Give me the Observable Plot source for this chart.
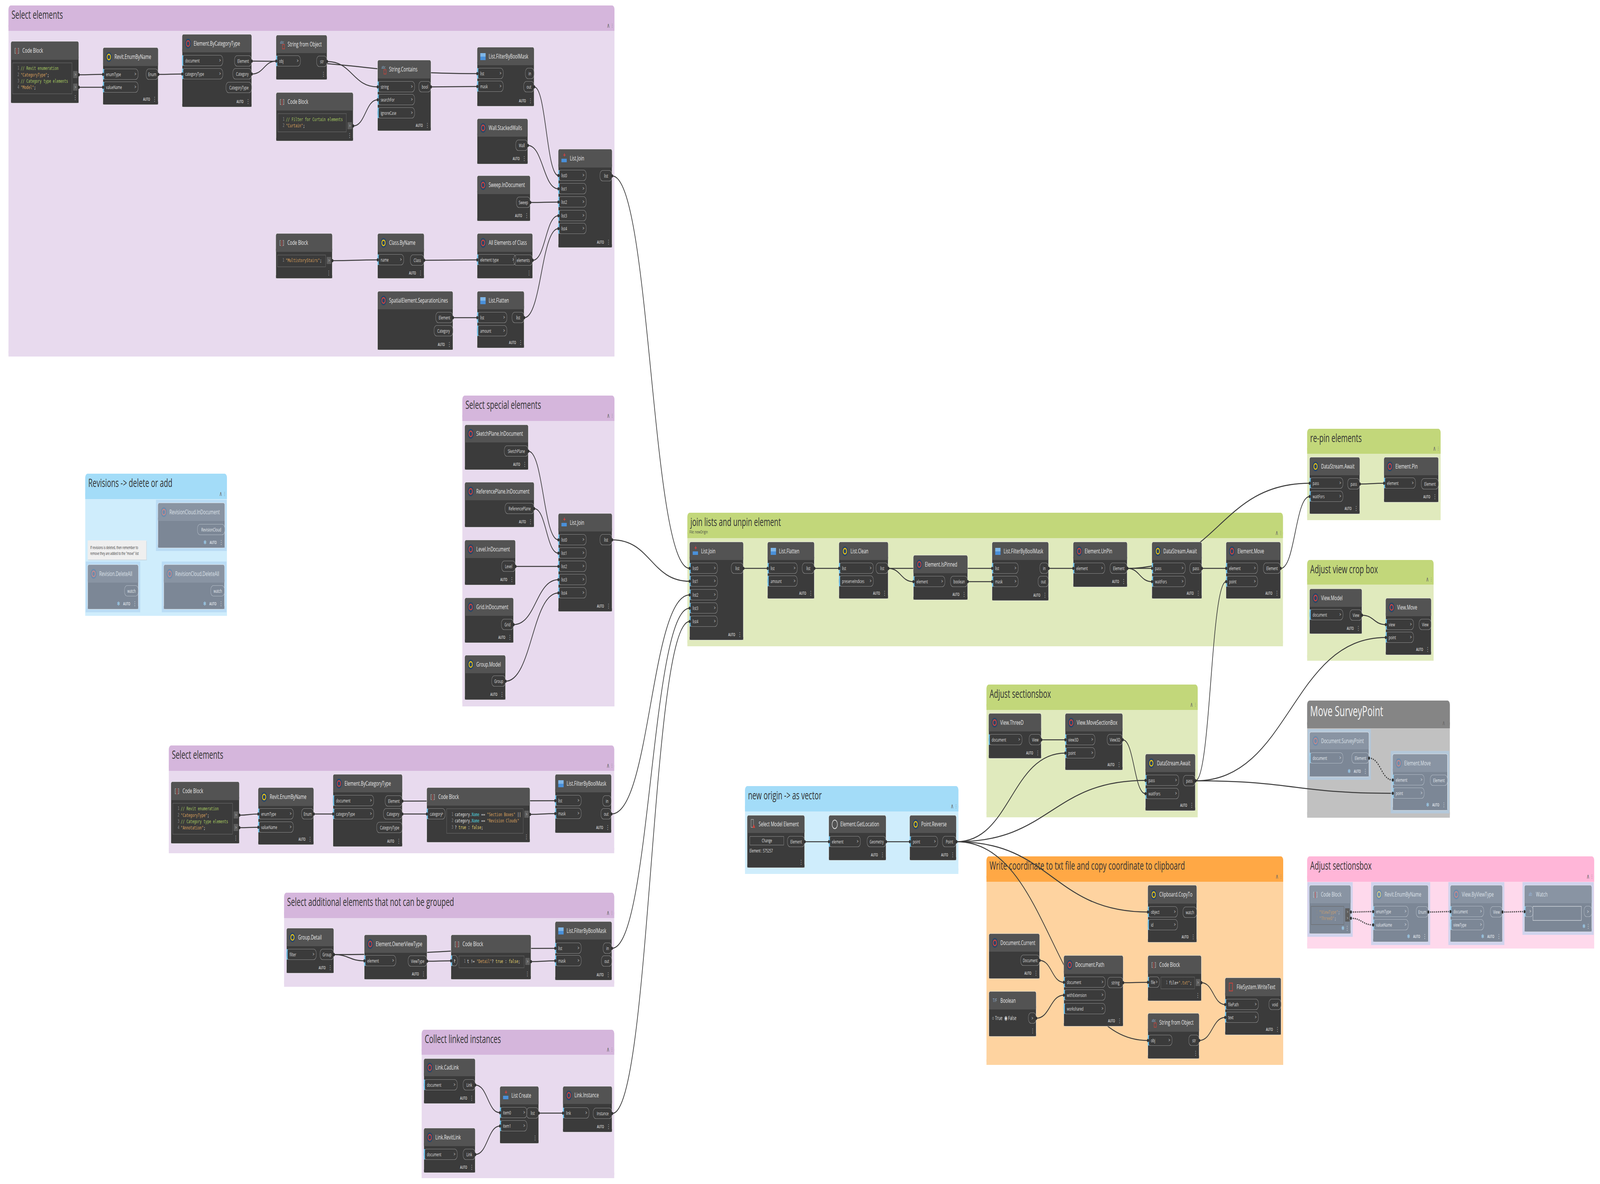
<!DOCTYPE html>
<html><head><meta charset="utf-8">
<script src="https://cdn.jsdelivr.net/npm/d3@7"></script>
<script src="https://cdn.jsdelivr.net/npm/@observablehq/plot@0.6"></script>
<style>html,body{margin:0;padding:0;background:#fff;overflow:hidden;width:100vw;height:100vh}#c{width:100vw;height:100vh;overflow:hidden}#c svg{display:block}</style>
</head><body><div id="c"></div>
<script>
// ---------- DATA (canvas units) ----------
// groups: name, subtitle, kind, x1, y1, x2, y2, header bottom
const groups = [
 ["Select elements","","purple",35,14,2537,913,78],
 ["Select special elements","","purple",1909,1013,2537,1809,1077],
 ["Revisions -> delete or add","","blue",352,1213,937,1577,1277],
 ["Select elements","","purple",697,1909,2536,2185,1973],
 ["Select additional elements that not can be grouped","","purple",1173,2286,2536,2527,2350],
 ["Collect linked instances","","purple",1741,2637,2536,3017,2700],
 ["join lists and unpin element","File: newOrigin","green",2838,1313,5297,1655,1377],
 ["Adjust sectionsbox","","green",4073,1753,4945,2093,1817],
 ["new origin -> as vector","","blue",3076,2013,3957,2238,2077],
 ["Write coordinate to txt file and copy coordinate to clipboard","","orange",4073,2193,5298,2727,2257],
 ["re-pin elements","","green",5397,1098,5948,1332,1161],
 ["Adjust view crop box","","green",5397,1434,5919,1692,1496],
 ["Move SurveyPoint","","gray",5397,1794,5986,2094,1864],
 ["Adjust sectionsbox","","pink",5397,2193,6582,2429,2257]
];
// nodes: id, title, icon, x1, y1, x2, y2, header bottom, footer, frozen
const nodes = [
 ["a1","Code Block","c",45,106,325,264,153,"dots",0],
 ["a2","Revit.EnumByName","y",425,122,653,268,169,"auto",0],
 ["a3","Element.ByCategoryType","r",752,88,1039,274,134,"auto",0],
 ["a4","String from Object","s",1140,90,1350,204,136,"dots",0],
 ["a5","Code Block","c",1140,237,1458,361,283,"dots",0],
 ["a6","String.Contains","s",1559,154,1779,335,201,"auto",0],
 ["a7","List.FilterByBoolMask","l",1970,121,2205,272,167,"auto",0],
 ["a8","Wall.StackedWalls","r",1970,304,2179,420,350,"auto",0],
 ["a9","Sweep.InDocument","r",1970,450,2189,566,497,"auto",0],
 ["a10","List.Join","j",2305,382,2527,634,429,"auto",0],
 ["a11","Code Block","c",1139,598,1372,713,645,"dots",0],
 ["a12","Class.ByName","y",1559,598,1751,713,645,"auto",0],
 ["a13","All Elements of Class","r",1970,598,2199,713,645,"dots",0],
 ["a14","SpatialElement.SeparationLines","r",1559,746,1870,896,792,"auto",0],
 ["a15","List.Flatten","l",1970,746,2164,891,792,"auto",0],
 ["b1","SketchPlane.InDocument","r",1919,1088,2181,1203,1133,"auto",0],
 ["b2","ReferencePlane.InDocument","r",1919,1235,2205,1350,1281,"auto",0],
 ["b3","Level.InDocument","r",1919,1383,2128,1498,1429,"auto",0],
 ["b4","Grid.InDocument","r",1919,1531,2120,1646,1577,"auto",0],
 ["b5","Group.Model","y",1919,1678,2087,1792,1724,"auto",0],
 ["b6","List.Join","j",2305,1315,2527,1566,1361,"auto",0],
 ["c1","RevisionCloud.InDocument","r",652,1288,928,1403,1334,"auto",1],
 ["c2","Revision.DeleteAll","r",362,1446,571,1560,1492,"auto",1],
 ["c3","RevisionCloud.DeleteAll","r",676,1446,927,1560,1492,"auto",1],
 ["d1","Code Block","c",706,2002,988,2160,2049,"dots",0],
 ["d2","Revit.EnumByName","y",1066,2017,1295,2163,2064,"auto",0],
 ["d3","Element.ByCategoryType","r",1375,1983,1661,2168,2029,"auto",0],
 ["d4","Code Block","c",1762,2017,2188,2157,2063,"dots",0],
 ["d5","List.FilterByBoolMask","l",2292,1983,2524,2133,2029,"auto",0],
 ["e1","Group.Detail","y",1183,2377,1378,2492,2423,"auto",0],
 ["e2","Element.OwnerViewType","r",1504,2394,1763,2508,2440,"auto",0],
 ["e3","Code Block","c",1862,2394,2192,2508,2440,"dots",0],
 ["e4","List.FilterByBoolMask","l",2292,2360,2526,2510,2406,"auto",0],
 ["f1","Link.CadLink","r",1750,2711,1962,2826,2756,"auto",0],
 ["f2","Link.RevitLink","r",1750,2889,1962,3003,2935,"auto",0],
 ["f3","List Create","j",2064,2782,2224,2928,2828,"dots",0],
 ["f4","Link.Instance","r",2324,2782,2527,2899,2827,"auto",0],
 ["g1","List.Join","j",2847,1388,3069,1639,1434,"auto",0],
 ["g2","List.Flatten","l",3169,1388,3362,1533,1434,"auto",0],
 ["g3","List.Clean","y",3464,1388,3667,1533,1434,"auto",0],
 ["g4","Element.IsPinned","r",3771,1422,3995,1536,1468,"auto",0],
 ["g5","List.FilterByBoolMask","l",4096,1388,4329,1538,1434,"auto",0],
 ["g6","Element.UnPin","r",4431,1388,4654,1503,1434,"auto",0],
 ["g7","DataStream.Await","y",4756,1388,4962,1533,1434,"auto",0],
 ["g8","Element.Move","r",5062,1388,5287,1533,1434,"auto",0],
 ["h1","View.ThreeD","r",4082,1827,4299,1942,1873,"auto",0],
 ["h2","View.MoveSectionBox","r",4398,1827,4635,1972,1873,"auto",0],
 ["h3","DataStream.Await","y",4729,1931,4935,2076,1977,"auto",0],
 ["i1","Select Model Element","p",3085,2088,3322,2222,2133,"dots",0],
 ["i2","Element.GetLocation","g",3422,2088,3658,2203,2133,"auto",0],
 ["i3","Point.Reverse","y",3756,2088,3948,2203,2133,"auto",0],
 ["j1","Clipboard.CopyTo","y",4739,2267,4941,2413,2314,"auto",0],
 ["j2","Document.Current","r",4083,2391,4292,2506,2437,"auto",0],
 ["j3","Boolean","b",4083,2539,4278,2654,2585,"dots",0],
 ["j4","Document.Path","r",4392,2447,4637,2628,2494,"auto",0],
 ["j5","Code Block","c",4739,2447,4960,2563,2494,"dots",0],
 ["j6","String from Object","s",4739,2595,4951,2711,2642,"dots",0],
 ["j7","FileSystem.WriteText","f",5058,2504,5289,2650,2551,"auto",0],
 ["k1","DataStream.Await","y",5407,1171,5614,1316,1217,"auto",0],
 ["k2","Element.Pin","r",5714,1171,5939,1286,1217,"auto",0],
 ["l1","View.Model","r",5407,1508,5623,1623,1554,"auto",0],
 ["l2","View.Move","r",5721,1532,5909,1677,1578,"auto",0],
 ["m1","Document.SurveyPoint","r",5407,1875,5652,1989,1919,"auto",1],
 ["m2","Element.Move","r",5750,1931,5976,2075,1977,"auto",1],
 ["n1","Code Block","c",5406,2267,5577,2391,2313,"dots",1],
 ["n2","Revit.EnumByName","y",5669,2267,5897,2412,2313,"auto",1],
 ["n3","View.ByViewType","r",5988,2267,6203,2412,2313,"auto",1],
 ["n4","Watch","w",6294,2267,6572,2386,2313,"dots",1]
];
// input ports: node, label, y
const inputs = [
 ["a2","enumType",190],["a2","valueName",223],
 ["a3","document",155],["a3","categoryType",189],
 ["a4","obj",156],
 ["a6","string",222],["a6","searchFor",255],["a6","ignoreCase",289],
 ["a7","list",188],["a7","mask",221],
 ["a10","list0",449],["a10","list1",483],["a10","list2",517],["a10","list3",552],["a10","list4",585],
 ["a12","name",665],["a13","element type",665],
 ["a15","list",813],["a15","amount",847],
 ["b6","list0",1382],["b6","list1",1416],["b6","list2",1450],["b6","list3",1484],["b6","list4",1518],
 ["d2","enumType",2084],["d2","valueName",2118],
 ["d3","document",2050],["d3","categoryType",2084],
 ["d4","category",2084],
 ["d5","list",2050],["d5","mask",2083],
 ["e1","filter",2444],["e2","element",2460],["e3","t",2460],
 ["e4","list",2428],["e4","mask",2460],
 ["f1","document",2778],["f2","document",2956],
 ["f3","item0",2849],["f3","item1",2883],["f4","link",2850],
 ["g1","list0",1455],["g1","list1",1488],["g1","list2",1523],["g1","list3",1557],["g1","list4",1591],
 ["g2","list",1455],["g2","amount",1488],
 ["g3","list",1455],["g3","preserveIndices",1488],
 ["g4","element",1489],
 ["g5","list",1455],["g5","mask",1489],
 ["g6","element",1455],
 ["g7","pass",1455],["g7","waitFors",1489],
 ["g8","element",1455],["g8","point",1489],
 ["h1","document",1894],["h2","view3D",1894],["h2","point",1928],
 ["h3","pass",1998],["h3","waitFors",2032],
 ["i2","element",2155],["i3","point",2155],
 ["j1","object",2335],["j1","id",2368],
 ["j4","document",2515],["j4","withExtension",2548],["j4","workshared",2583],
 ["j5","file",2515],["j6","obj",2664],
 ["j7","filePath",2572],["j7","text",2605],
 ["k1","pass",1237],["k1","waitFors",1271],["k2","element",1237],
 ["l1","document",1574],["l2","view",1599],["l2","point",1632],
 ["m1","document",1941],["m2","element",1997],["m2","point",2031],
 ["n2","enumType",2334],["n2","valueName",2368],
 ["n3","document",2334],["n3","viewType",2368],
 ["n4","",2334]
];
// output ports: node, label, y
const outputs = [
 ["a1","",191],["a1","",223],["a2","Enum",190],
 ["a3","Element",156],["a3","Category",189],["a3","CategoryType",224],
 ["a4","str",157],["a5","",322],["a6","bool",222],
 ["a7","in",188],["a7","out",222],["a8","Wall",372],["a9","Sweep",518],["a10","list",450],
 ["a11","",667],["a12","Class",666],["a13","elements",666],
 ["a14","Element",813],["a14","Category",847],["a15","list",813],
 ["b1","SketchPlane",1155],["b2","ReferencePlane",1302],["b3","Level",1450],["b4","Grid",1599],["b5","Group",1744],["b6","list",1382],
 ["c1","RevisionCloud",1356],["c2","watch",1513],["c3","watch",1513],
 ["d1","",2087],["d1","",2119],["d2","Enum",2084],
 ["d3","Element",2051],["d3","Category",2084],["d3","CategoryType",2119],
 ["d4","",2085],["d5","in",2051],["d5","out",2084],
 ["e1","Group",2444],["e2","ViewType",2461],["e3","",2462],["e4","in",2428],["e4","out",2461],
 ["f1","Link",2778],["f2","Link",2956],["f3","list",2850],["f4","Instance",2851],
 ["g1","list",1455],["g2","list",1455],["g3","list",1455],["g4","boolean",1489],
 ["g5","in",1455],["g5","out",1489],["g6","Element",1455],["g7","pass",1455],["g8","Element",1455],
 ["h1","View",1894],["h2","View3D",1894],["h3","pass",1999],
 ["i1","Element",2155],["i2","Geometry",2155],["i3","Point",2155],
 ["j1","watch",2336],["j2","Document",2459],["j3","",2607],["j4","string",2516],
 ["j5","",2516],["j6","str",2664],["j7","void",2572],
 ["k1","pass",1239],["k2","Element",1239],["l1","View",1575],["l2","View",1599],
 ["m1","Element",1941],["m2","Element",1998],
 ["n1","",2335],["n1","",2351],["n2","Enum",2335],["n3","View",2335],["n4","",2334]
];
// wires: from node, output index, to node, input index
const wires = [
 ["a1",0,"a2",0],["a1",1,"a2",1],["a2",0,"a3",1],["a3",0,"a7",0],["a3",1,"a4",0],
 ["a4",0,"a6",0],["a5",0,"a6",1],["a6",0,"a7",1],["a7",1,"a10",0],["a8",0,"a10",1],
 ["a9",0,"a10",2],["a13",0,"a10",3],["a15",0,"a10",4],["a11",0,"a12",0],["a12",0,"a13",0],["a14",0,"a15",0],
 ["b1",0,"b6",0],["b2",0,"b6",1],["b3",0,"b6",2],["b4",0,"b6",3],["b5",0,"b6",4],
 ["d1",0,"d2",0],["d1",1,"d2",1],["d2",0,"d3",1],["d3",0,"d5",0],["d3",1,"d4",0],["d4",0,"d5",1],
 ["e1",0,"e4",0],["e1",0,"e2",0],["e2",0,"e3",0],["e3",0,"e4",1],
 ["f1",0,"f3",0],["f2",0,"f3",1],["f3",0,"f4",0],
 ["a10",0,"g1",0],["b6",0,"g1",1],["d5",1,"g1",2],["e4",0,"g1",3],["f4",0,"g1",4],
 ["g1",0,"g2",0],["g2",0,"g3",0],["g3",0,"g4",0],["g3",0,"g5",0],["g4",0,"g5",1],
 ["g5",0,"g6",0],["g6",0,"g7",0],["g6",0,"g7",1],["g7",0,"g8",0],["g6",0,"k1",0],["g8",0,"k1",1],
 ["h1",0,"h2",0],["i3",0,"h2",1],["h2",0,"h3",1],["i3",0,"h3",0],
 ["h3",0,"g8",1],["h3",0,"l2",1],["h3",0,"m2",1],
 ["i1",0,"i2",0],["i2",0,"i3",0],["i3",0,"j1",0],["i3",0,"j6",0],
 ["j2",0,"j4",0],["j3",0,"j4",1],["j4",0,"j5",0],["j5",0,"j7",0],["j6",0,"j7",1],
 ["k1",0,"k2",0],["l1",0,"l2",0],["m1",0,"m2",0],
 ["n1",0,"n2",0],["n1",1,"n2",1],["n2",0,"n3",0],["n3",0,"n4",0]
];
// code block lines: node, text, y
const codeLines = [
 ["a1","// Revit enumeration",174],["a1","\"CategoryType\";",191],["a1","// Category type elements",207],["a1","\"Model\";",223],
 ["a5","// Filter for Curtain elements",305],["a5","\"Curtain\";",321],
 ["a11","\"MultistoryStairs\";",666],
 ["d1","// Revit enumeration",2070],["d1","\"CategoryType\";",2087],["d1","// Category type elements",2103],["d1","\"Annotation\";",2119],
 ["d4","category.Name == \"Section Boxes\" ||",2085],["d4","category.Name == \"Revision Clouds\"",2101],["d4","? true : false;",2118],
 ["e3","t != \"Detail\"? true : false;",2461],
 ["j5","file+\".txt\";",2516],
 ["n1","\"ViewType\";",2335],["n1","\"ThreeD\";",2351]
];
const notes = [["If revisions is deleted, then remember to\nremove they are added to the \"move\" list",362,1384,604,1433]];
const selectionText = ["Change","Element : 575257"];
const booleanText = "○ True  ◉ False";

// ---------- STYLE ----------
const pal = {
 purple:{head:"#d5b6dc",body:"#e8daee",title:"#333333"},
 green:{head:"#c2d77a",body:"#e0eabd",title:"#333333"},
 blue:{head:"#a3dcf8",body:"#cfedfc",title:"#333333"},
 orange:{head:"#ffa845",body:"#fed3a0",title:"#333333"},
 gray:{head:"#858585",body:"#c1c1c1",title:"#f4f4f4"},
 pink:{head:"#ffb6d8",body:"#fed9ec",title:"#333333"}
};
const NORM = {body:"#3b3b3b",head:"#535353",title:"#e8e8e8",port:"#dedede",pill:"#8d8d8d",bar:"#6cc3ee",foot:"#dcdcdc"};
const FROZ = {body:"#7c8796",head:"#8994a3",title:"#dbe1e8",port:"#e4e9ee",pill:"#b4bdc8",bar:"#8fc9ea",foot:"#e8edf2"};
const FONT = "'Open Sans', 'Noto Sans', sans-serif";
const MONO = "'DejaVu Sans Mono', monospace";
const CW = 13 * 0.602;

// ---------- BUILD TABLES ----------
const G = groups.map(([name, sub, kind, x1, y1, x2, y2, hb]) => ({name, sub, kind, x1, y1, x2, y2, hb, ...pal[kind]}));
const byId = new Map();
const N = nodes.map(([id, title, icon, x1, y1, x2, y2, hb, foot, frozen]) => {
  const n = {id, title, icon, x1, y1, x2, y2, hb, foot, frozen: !!frozen, ins: [], outs: [], code: []};
  n.s = n.frozen ? FROZ : NORM;
  byId.set(id, n); return n;
});
inputs.forEach(([id, label, y]) => byId.get(id).ins.push({label, y}));
outputs.forEach(([id, label, y]) => byId.get(id).outs.push({label, y}));
codeLines.forEach(([id, text, y]) => byId.get(id).code.push({text, y}));

const inPills = [], outPills = [], codeOuts = [];
N.forEach(n => {
  const maxLen = d3.max(n.ins, p => p.label.length) || 0;
  const inW = n.icon === "c" ? 7 * maxLen + 20 : (maxLen === 0 ? 36 : Math.min(0.7 * (n.x2 - n.x1), 7.5 * maxLen + 78));
  n.inW = n.ins.length ? inW : 0;
  n.ins.forEach(p => inPills.push({...p, x1: n.x1, x2: n.x1 + inW, s: n.s}));
  n.outs.forEach(p => {
    if (n.icon === "c") codeOuts.push({...p, x1: n.x2 - 23, x2: n.x2 - 5, s: n.s});
    else { const w = p.label ? 7 * p.label.length + 22 : 32; outPills.push({...p, x1: n.x2 - w, x2: n.x2, s: n.s}); }
  });
});

function tokColor(tok, prev) {
  if (tok.startsWith("//")) return "#a6c860";
  if (tok.startsWith('"')) return "#d9a05b";
  if (tok === "true" || tok === "false") return "#e3d36d";
  if (tok === "Name" && prev === ".") return "#4ec9d4";
  return "#e4e4e4";
}
const codeBoxes = [], codeNums = [], codeToks = [];
N.filter(n => n.code.length).forEach(n => {
  const bx1 = n.x1 + (n.ins.length ? n.inW + 6 : 7), bx2 = n.x2 - 28;
  const by1 = n.hb + 8, by2 = by1 + n.code.length * 16.3 + 14;
  codeBoxes.push({x1: bx1, x2: bx2, y1: by1, y2: by2, s: n.s});
  n.code.forEach((ln, i) => {
    codeNums.push({x: bx1 + 27, y: ln.y, t: String(i + 1)});
    let col = 0, prev = "";
    for (const tok of ln.text.match(/\/\/.*|"[^"]*"|\s+|[A-Za-z_]+|[^\sA-Za-z_"]+/g)) {
      if (!/^\s+$/.test(tok)) {
        let c = tokColor(tok, prev);
        if (n.frozen) c = d3.interpolateRgb(c, "#8994a3")(0.3);
        codeToks.push({x: bx1 + 33 + col * CW, y: ln.y, t: tok, c});
        prev = tok;
      }
      col += tok.length;
    }
  });
});

const W = wires.map(([a, ai, b, bi]) => {
  const A = byId.get(a), B = byId.get(b);
  return {x1: A.x2, y1: A.outs[ai].y, x2: B.x1, y2: B.ins[bi].y, dashed: A.frozen && B.frozen};
});
const ends = W.flatMap(w => [{x: w.x1, y: w.y1}, {x: w.x2, y: w.y2}]);
const IC = N.map(n => ({icon: n.icon, x: n.x1 + 24, y: (n.y1 + n.hb) / 2, frozen: n.frozen}));
const icon = t => IC.filter(d => t.includes(d.icon));
const sel = byId.get("i1"), boo = byId.get("j3"), wat = byId.get("n4");
const NT = notes.map(([t, x1, y1, x2, y2]) => ({t, x1, y1, x2, y2}));

// ---------- PLOT ----------
const chart = Plot.plot({
  width: 6606, height: 3032, margin: 0,
  x: {domain: [0, 6606], range: [0, 6606], axis: null},
  y: {domain: [0, 3032], range: [0, 3032], axis: null},
  color: {type: "identity"},
  style: {fontFamily: FONT, background: "#ffffff"},
  marks: [
    // groups
    Plot.rect(G, {x1: "x1", x2: "x2", y1: "y1", y2: "y2", fill: "body", rx: 10}),
    Plot.rect(G, {x1: "x1", x2: "x2", y1: "y1", y2: "hb", fill: "head", rx: 10}),
    Plot.rect(G, {x1: "x1", x2: "x2", y1: d => d.hb - 14, y2: d => d.hb + 1, fill: "head"}),
    Plot.rect(G, {x1: "x1", x2: "x2", y1: d => d.y2 - 14, y2: "y2", fill: "body"}),
    Plot.text(G.filter(d => d.kind !== "gray"), {x: d => d.x1 + 12, y: d => d.y1 + 24, text: "name", fill: "title", fontSize: 29, textAnchor: "start"}),
    Plot.text(G.filter(d => d.kind === "gray"), {x: d => d.x1 + 12, y: d => d.y1 + 28, text: "name", fill: "title", fontSize: 36, textAnchor: "start"}),
    Plot.text(G.filter(d => d.sub), {x: d => d.x1 + 8, y: d => d.hb - 15, text: "sub", fill: "#444", fontSize: 11, textAnchor: "start"}),
    Plot.text(G, {x: d => d.x2 - 26, y: d => d.hb - 13, text: () => "∧", fill: "#666", fontSize: 17, fontFamily: "DejaVu Sans"}),
    Plot.text(G, {x: d => d.x2 - 10, y: d => d.hb - 13, text: () => "⋮", fill: "#777", fontSize: 13, fontFamily: "DejaVu Sans"}),
    // note
    Plot.rect(NT, {x1: d => d.x1 + 2, x2: d => d.x2 + 2, y1: d => d.y1 + 2, y2: d => d.y2 + 2, fill: "#c9d9e2"}),
    Plot.rect(NT, {x1: "x1", x2: "x2", y1: "y1", y2: "y2", fill: "#efefef"}),
    Plot.text(NT, {x: d => d.x1 + 10, y: d => (d.y1 + d.y2) / 2, text: "t", fill: "#333", fontSize: 10.5, lineHeight: 1.35, textAnchor: "start"}),
    // wires
    Plot.link(W.filter(w => !w.dashed), {x1: "x1", y1: "y1", x2: "x2", y2: "y2", curve: "bump-x", stroke: "#3a3a3a", strokeWidth: 2.6}),
    Plot.link(W.filter(w => w.dashed), {x1: "x1", y1: "y1", x2: "x2", y2: "y2", curve: "bump-x", stroke: "#3a3a3a", strokeWidth: 3.4, strokeDasharray: "4,4"}),
    // frozen halos
    Plot.rect(N.filter(n => n.frozen), {x1: n => n.x1 - 8, x2: n => n.x2 + 8, y1: n => n.y1 - 8, y2: n => n.y2 + 8, fill: "#a9cdef", fillOpacity: 0.55}),
    // nodes
    Plot.rect(N, {x1: "x1", x2: "x2", y1: "y1", y2: "y2", fill: n => n.s.body, stroke: "#f4f4f4", strokeWidth: 1.2, rx: 5}),
    Plot.rect(N, {x1: n => n.x1 + 0.6, x2: n => n.x2 - 0.6, y1: n => n.y1 + 0.6, y2: "hb", fill: n => n.s.head, rx: 5}),
    Plot.rect(N, {x1: n => n.x1 + 0.6, x2: n => n.x2 - 0.6, y1: n => n.hb - 8, y2: "hb", fill: n => n.s.head}),
    Plot.rect(N, {x1: n => n.x1 + 0.6, x2: n => n.x2 - 0.6, y1: n => n.y2 - 8, y2: n => n.y2 - 0.6, fill: n => n.s.body}),
    // icons
    Plot.dot(icon("ry"), {x: "x", y: "y", r: 12.5, fill: d => d.frozen ? "#6d8cab" : "#2b4766"}),
    Plot.dot(icon("r"), {x: "x", y: "y", r: 7, fill: "none", stroke: d => d.frozen ? "#c98a8a" : "#d4433b", strokeWidth: 3}),
    Plot.dot(icon("y"), {x: "x", y: "y", r: 7, fill: "none", stroke: d => d.frozen ? "#d8cc88" : "#f1c40f", strokeWidth: 3}),
    Plot.text(icon("c"), {x: "x", y: "y", text: () => "[  ]", fill: d => d.frozen ? "#c5ccd5" : "#c9c9c9", fontSize: 16}),
    Plot.text(icon("c"), {x: "x", y: "y", text: () => "|", fill: "#d9463e", fontSize: 16, fontWeight: "bold"}),
    Plot.rect(icon("lj"), {x1: d => d.x - 11, x2: d => d.x + 11, y1: d => d.y + 1, y2: d => d.y + 10, fill: "#4a90d9"}),
    Plot.text(icon("j"), {x: "x", y: d => d.y - 8, text: () => "+", fill: "#e04040", fontSize: 17, fontWeight: "bold"}),
    Plot.rect(icon("l"), {x1: d => d.x - 11, x2: d => d.x + 11, y1: d => d.y - 8, y2: d => d.y + 1, fill: "#7fb6e8"}),
    Plot.text(icon("s"), {x: "x", y: d => d.y - 5, text: () => "abc", fill: "#8db4d6", fontSize: 10}),
    Plot.rect(icon("s"), {x1: d => d.x + 2, x2: d => d.x + 11, y1: d => d.y + 1, y2: d => d.y + 12, fill: "none", stroke: "#d4433b", strokeWidth: 1.5}),
    Plot.dot(icon("g"), {x: "x", y: "y", r: 11, fill: "none", stroke: "#dddddd", strokeWidth: 2}),
    Plot.rect(icon("p"), {x1: d => d.x - 8, x2: d => d.x + 2, y1: d => d.y - 12, y2: d => d.y + 8, fill: "none", stroke: "#aaaaaa", strokeWidth: 1.5}),
    Plot.dot(icon("p"), {x: d => d.x + 3, y: d => d.y + 6, r: 4, fill: "#d4433b", symbol: "triangle"}),
    Plot.text(icon("b"), {x: "x", y: "y", text: () => "T/F", fill: "#9ab8d8", fontSize: 12}),
    Plot.rect(icon("f"), {x1: d => d.x - 7, x2: d => d.x + 7, y1: d => d.y - 10, y2: d => d.y + 10, fill: "none", stroke: "#d4433b", strokeWidth: 2}),
    Plot.text(icon("w"), {x: "x", y: "y", text: () => "ab", fill: "#9bbbe0", fontSize: 12}),
    // titles
    Plot.text(N, {x: n => n.x1 + 47, y: n => (n.y1 + n.hb) / 2, text: "title", fill: n => n.s.title, fontSize: 16.5, textAnchor: "start"}),
    // input pills
    Plot.rect(inPills, {x1: "x1", x2: "x2", y1: d => d.y - 13.5, y2: d => d.y + 13.5, fill: "none", stroke: d => d.s.pill, strokeWidth: 1.2, rx: 11}),
    Plot.rect(inPills, {x1: "x1", x2: d => d.x1 + 4.5, y1: d => d.y - 13.5, y2: d => d.y + 13.5, fill: d => d.s.bar}),
    Plot.text(inPills, {x: d => d.x1 + 12, y: "y", text: "label", fill: d => d.s.port, fontSize: 12.5, textAnchor: "start"}),
    Plot.text(inPills, {x: d => d.x2 - 12, y: "y", text: () => ">", fill: d => d.s.port, fontSize: 12}),
    // output pills
    Plot.rect(outPills, {x1: "x1", x2: "x2", y1: d => d.y - 13.5, y2: d => d.y + 13.5, fill: "none", stroke: d => d.s.pill, strokeWidth: 1.2, rx: 11}),
    Plot.text(outPills, {x: d => (d.x1 + d.x2) / 2, y: "y", text: d => d.label || ">", fill: d => d.s.port, fontSize: 12.5}),
    // code blocks
    Plot.rect(codeBoxes, {x1: "x1", x2: "x2", y1: "y1", y2: "y2", fill: d => d.s.body, stroke: "#6a6a6a", strokeWidth: 1.2}),
    Plot.text(codeNums, {x: "x", y: "y", text: "t", fill: "#8a8a8a", fontSize: 12, fontFamily: MONO, textAnchor: "end"}),
    Plot.text(codeToks, {x: "x", y: "y", text: "t", fill: "c", fontSize: 13, fontFamily: MONO, textAnchor: "start"}),
    Plot.rect(codeOuts, {x1: "x1", x2: "x2", y1: d => d.y - 9, y2: d => d.y + 9, fill: "#5e5e5e"}),
    Plot.text(codeOuts, {x: d => (d.x1 + d.x2) / 2, y: "y", text: () => ">", fill: "#cccccc", fontSize: 11}),
    // footers
    Plot.text(N.filter(n => n.foot === "auto"), {x: n => n.x2 - 34, y: n => n.y2 - 14, text: () => "AUTO", fill: n => n.s.foot, fontSize: 10.5, fontWeight: 600, textAnchor: "end"}),
    Plot.text(N, {x: n => n.x2 - 15, y: n => n.y2 - 14, text: () => "⋮", fill: n => n.s.foot, fontSize: 15, fontFamily: "DejaVu Sans"}),
    Plot.text(N.filter(n => n.frozen), {x: n => n.foot === "auto" ? n.x2 - 82 : n.x2 - 33, y: n => n.y2 - 14, text: () => "❄", fill: "#a6dcfa", fontSize: 15, fontFamily: "DejaVu Sans"}),
    // special node contents
    Plot.rect([sel], {x1: n => n.x1 + 11, x2: n => n.x1 + 151, y1: n => n.hb + 9, y2: n => n.hb + 31, fill: "#3b3b3b", stroke: "#8a8a8a", strokeWidth: 1.2}),
    Plot.text([sel], {x: n => n.x1 + 81, y: n => n.hb + 20, text: () => selectionText[0], fill: "#e0e0e0", fontSize: 12}),
    Plot.text([sel], {x: n => n.x1 + 9, y: n => n.hb + 46, text: () => selectionText[1], fill: "#e0e0e0", fontSize: 12, textAnchor: "start"}),
    Plot.text([boo], {x: n => n.x1 + 12, y: n => n.outs[0].y, text: () => booleanText, fill: "#e0e0e0", fontSize: 14.5, textAnchor: "start"}),
    Plot.rect([wat], {x1: n => n.x1 + 35, x2: n => n.x2 - 43, y1: n => n.hb + 8, y2: n => n.hb + 44, fill: "none", stroke: "#e3e7ec", strokeWidth: 1.2}),
    // wire end caps
    Plot.dot(ends, {x: "x", y: "y", r: 4, fill: "#333333"})
  ]
});
// scale the whole drawing to the window, whatever its CSS size
chart.setAttribute("viewBox", "0 0 6606 3032");
chart.setAttribute("preserveAspectRatio", "none");
chart.style.maxWidth = "none";
chart.style.width = "100vw";
chart.style.height = "100vh";
chart.style.display = "block";
document.getElementById("c").appendChild(chart);
</script>
</body></html>
